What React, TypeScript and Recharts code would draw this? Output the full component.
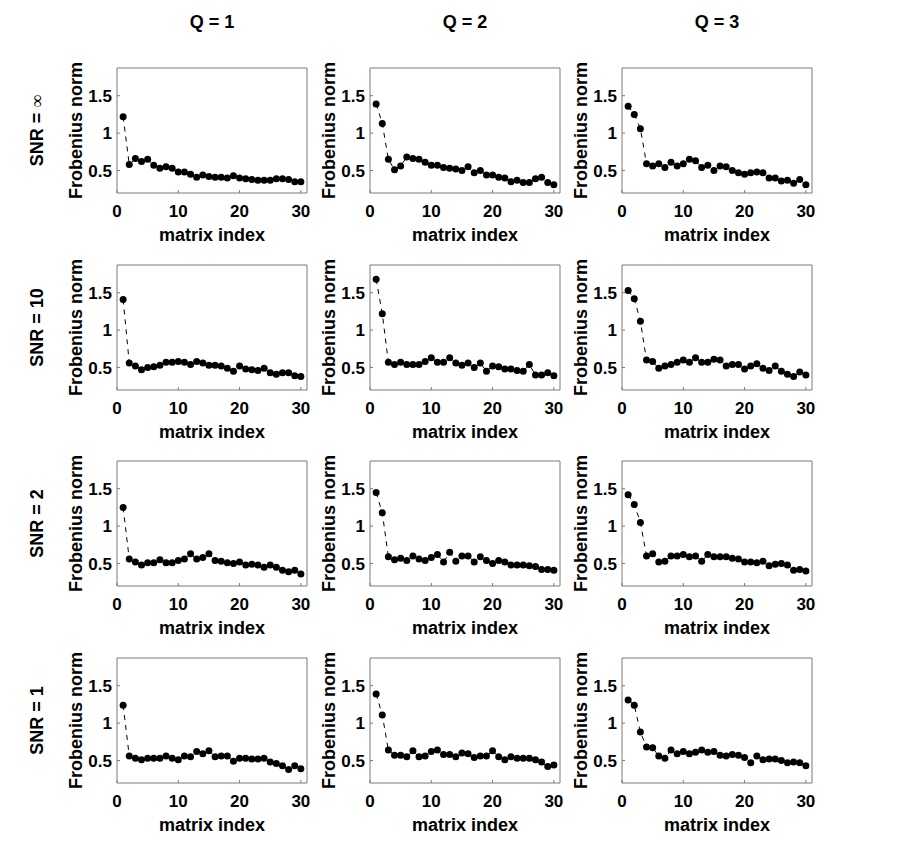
import React from "react";
import { LineChart, Line, XAxis, YAxis } from "recharts";

// x values shared by every panel
const matrixIndex = [
  1, 2, 3, 4, 5, 6, 7, 8, 9, 10, 11, 12, 13, 14, 15, 16, 17, 18, 19, 20, 21, 22, 23, 24, 25, 26, 27, 28, 29, 30,
];

const qLabels = ["Q = 1", "Q = 2", "Q = 3"];
const snrLabels = ["∞", "10", "2", "1"];
const xTicks = [0, 10, 20, 30];
const yTicks = [0.5, 1, 1.5];

// Frobenius norm per matrix index, one array per (SNR, Q) panel
const snrInfQ1 = [1.22, 0.58, 0.66, 0.62, 0.65, 0.57, 0.53, 0.55, 0.53, 0.48, 0.48, 0.45, 0.41, 0.44, 0.42, 0.41, 0.41, 0.4, 0.43, 0.4, 0.39, 0.38, 0.37, 0.37, 0.37, 0.39, 0.39, 0.38, 0.35, 0.35];
const snrInfQ2 = [1.39, 1.13, 0.65, 0.51, 0.56, 0.68, 0.66, 0.65, 0.61, 0.57, 0.57, 0.54, 0.53, 0.52, 0.5, 0.55, 0.47, 0.5, 0.44, 0.44, 0.41, 0.4, 0.35, 0.37, 0.34, 0.34, 0.39, 0.41, 0.34, 0.31];
const snrInfQ3 = [1.36, 1.25, 1.06, 0.59, 0.56, 0.59, 0.54, 0.61, 0.56, 0.59, 0.65, 0.63, 0.54, 0.57, 0.5, 0.56, 0.55, 0.5, 0.47, 0.45, 0.47, 0.48, 0.47, 0.4, 0.4, 0.36, 0.37, 0.33, 0.38, 0.31];
const snr10Q1 = [1.41, 0.56, 0.52, 0.47, 0.5, 0.51, 0.53, 0.57, 0.57, 0.58, 0.57, 0.54, 0.58, 0.56, 0.53, 0.53, 0.52, 0.49, 0.45, 0.52, 0.48, 0.47, 0.46, 0.49, 0.43, 0.41, 0.43, 0.43, 0.39, 0.38];
const snr10Q2 = [1.68, 1.22, 0.57, 0.54, 0.57, 0.54, 0.54, 0.54, 0.58, 0.63, 0.57, 0.57, 0.63, 0.56, 0.53, 0.56, 0.5, 0.56, 0.45, 0.52, 0.51, 0.48, 0.48, 0.46, 0.45, 0.54, 0.4, 0.4, 0.43, 0.39];
const snr10Q3 = [1.53, 1.42, 1.12, 0.6, 0.58, 0.49, 0.52, 0.54, 0.57, 0.6, 0.57, 0.63, 0.57, 0.57, 0.61, 0.6, 0.52, 0.54, 0.54, 0.48, 0.52, 0.55, 0.49, 0.46, 0.52, 0.45, 0.41, 0.38, 0.44, 0.4];
const snr2Q1 = [1.25, 0.56, 0.52, 0.48, 0.51, 0.51, 0.55, 0.51, 0.51, 0.54, 0.56, 0.63, 0.56, 0.58, 0.63, 0.54, 0.53, 0.51, 0.5, 0.52, 0.48, 0.49, 0.48, 0.45, 0.48, 0.45, 0.41, 0.39, 0.41, 0.36];
const snr2Q2 = [1.45, 1.18, 0.59, 0.55, 0.57, 0.54, 0.6, 0.56, 0.54, 0.58, 0.62, 0.52, 0.65, 0.53, 0.6, 0.6, 0.52, 0.59, 0.54, 0.5, 0.54, 0.52, 0.48, 0.48, 0.48, 0.47, 0.46, 0.42, 0.42, 0.41];
const snr2Q3 = [1.42, 1.29, 1.05, 0.6, 0.63, 0.52, 0.53, 0.6, 0.6, 0.62, 0.59, 0.6, 0.53, 0.62, 0.59, 0.59, 0.59, 0.57, 0.56, 0.52, 0.52, 0.51, 0.53, 0.47, 0.49, 0.5, 0.48, 0.41, 0.42, 0.4];
const snr1Q1 = [1.24, 0.56, 0.53, 0.51, 0.53, 0.53, 0.53, 0.56, 0.53, 0.51, 0.56, 0.55, 0.62, 0.59, 0.63, 0.55, 0.56, 0.56, 0.49, 0.53, 0.53, 0.52, 0.52, 0.53, 0.48, 0.46, 0.43, 0.38, 0.43, 0.39];
const snr1Q2 = [1.39, 1.11, 0.64, 0.57, 0.57, 0.55, 0.63, 0.55, 0.56, 0.62, 0.64, 0.58, 0.58, 0.55, 0.6, 0.59, 0.54, 0.56, 0.56, 0.63, 0.55, 0.51, 0.55, 0.53, 0.53, 0.53, 0.51, 0.48, 0.42, 0.44];
const snr1Q3 = [1.31, 1.24, 0.88, 0.68, 0.67, 0.56, 0.53, 0.64, 0.59, 0.62, 0.59, 0.61, 0.64, 0.61, 0.62, 0.57, 0.56, 0.58, 0.57, 0.54, 0.47, 0.56, 0.51, 0.52, 0.52, 0.5, 0.47, 0.48, 0.47, 0.43];

const panels = [
  [snrInfQ1, snrInfQ2, snrInfQ3],
  [snr10Q1, snr10Q2, snr10Q3],
  [snr2Q1, snr2Q2, snr2Q3],
  [snr1Q1, snr1Q2, snr1Q3],
];

const AXIS = "#7a7a7a";
const FONT = "'Liberation Sans', Arial, Helvetica, sans-serif";
const PLOT_W = 190;
const PLOT_H = 125;
const COL_LEFT = [117, 370, 622];
const ROW_TOP = [68, 265, 461, 658];
const Y_DOMAIN: [number, number] = [0.2, 1.87];
const X_DOMAIN: [number, number] = [0, 31];

const tickStyle = { fill: "#000", fontSize: 17, fontWeight: "bold", fontFamily: FONT };

function Panel({ values, left, top }: { values: number[]; left: number; top: number }) {
  const data = matrixIndex.map((i, k) => ({ i, v: values[k] }));
  return (
    <div style={{ position: "absolute", left: left - 60, top: top - 10 }}>
      <LineChart width={60 + PLOT_W + 10} height={10 + PLOT_H + 40} data={data} margin={{ top: 10, right: 10, left: 0, bottom: 0 }}>
        <XAxis
          xAxisId="b"
          type="number"
          dataKey="i"
          domain={X_DOMAIN}
          ticks={xTicks}
          allowDataOverflow
          height={40}
          stroke={AXIS}
          tickSize={-3}
          tickMargin={15}
          tick={tickStyle}
        />
        <XAxis xAxisId="t" orientation="top" mirror type="number" dataKey="i" domain={X_DOMAIN} ticks={xTicks} allowDataOverflow height={2} stroke={AXIS} tickSize={3} tick={false} />
        <YAxis
          yAxisId="l"
          type="number"
          domain={Y_DOMAIN}
          ticks={yTicks}
          allowDataOverflow
          width={60}
          stroke={AXIS}
          tickSize={-3}
          tickMargin={8}
          tick={tickStyle}
        />
        <YAxis yAxisId="r" orientation="right" mirror type="number" domain={Y_DOMAIN} ticks={yTicks} allowDataOverflow width={2} stroke={AXIS} tickSize={3} tick={false} />
        <Line
          xAxisId="b"
          yAxisId="l"
          dataKey="v"
          stroke="#000"
          strokeWidth={1}
          strokeDasharray="5 5"
          dot={{ r: 3.5, fill: "#000", stroke: "none" }}
          activeDot={false}
          isAnimationActive={false}
        />
      </LineChart>
    </div>
  );
}

export default function App() {
  return (
    <div style={{ position: "absolute", left: 0, top: 0, width: 899, height: 844, background: "#fff", fontFamily: FONT }}>
      <svg width={899} height={844} style={{ position: "absolute", left: 0, top: 0 }}>
        {qLabels.map((q, c) => (
          <text key={q} x={COL_LEFT[c] + PLOT_W / 2} y={22} textAnchor="middle" dominantBaseline="central" fontSize={18} fontWeight="bold">
            {q}
          </text>
        ))}
        {snrLabels.map((s, r) => (
          <text
            key={s}
            transform={`translate(37, ${ROW_TOP[r] + PLOT_H / 2}) rotate(-90)`}
            textAnchor="middle"
            dominantBaseline="central"
            fontSize={18}
            fontWeight="bold"
          >
            SNR ={" "}
            {s === "∞" ? (
              <tspan fontWeight="normal" fontFamily="'Liberation Serif', serif">
                {s}
              </tspan>
            ) : (
              s
            )}
          </text>
        ))}
        {ROW_TOP.map((top) =>
          COL_LEFT.map((left) => (
            <g key={`${top}-${left}`}>
              <text
                transform={`translate(${left - 41}, ${top + PLOT_H / 2}) rotate(-90)`}
                textAnchor="middle"
                dominantBaseline="central"
                fontSize={18}
                fontWeight="bold"
              >
                Frobenius norm
              </text>
              <text x={left + PLOT_W / 2} y={top + PLOT_H + 42} textAnchor="middle" dominantBaseline="central" fontSize={18} fontWeight="bold">
                matrix index
              </text>
            </g>
          ))
        )}
      </svg>
      {panels.map((row, r) =>
        row.map((values, c) => <Panel key={`${r}-${c}`} values={values} left={COL_LEFT[c]} top={ROW_TOP[r]} />)
      )}
    </div>
  );
}
